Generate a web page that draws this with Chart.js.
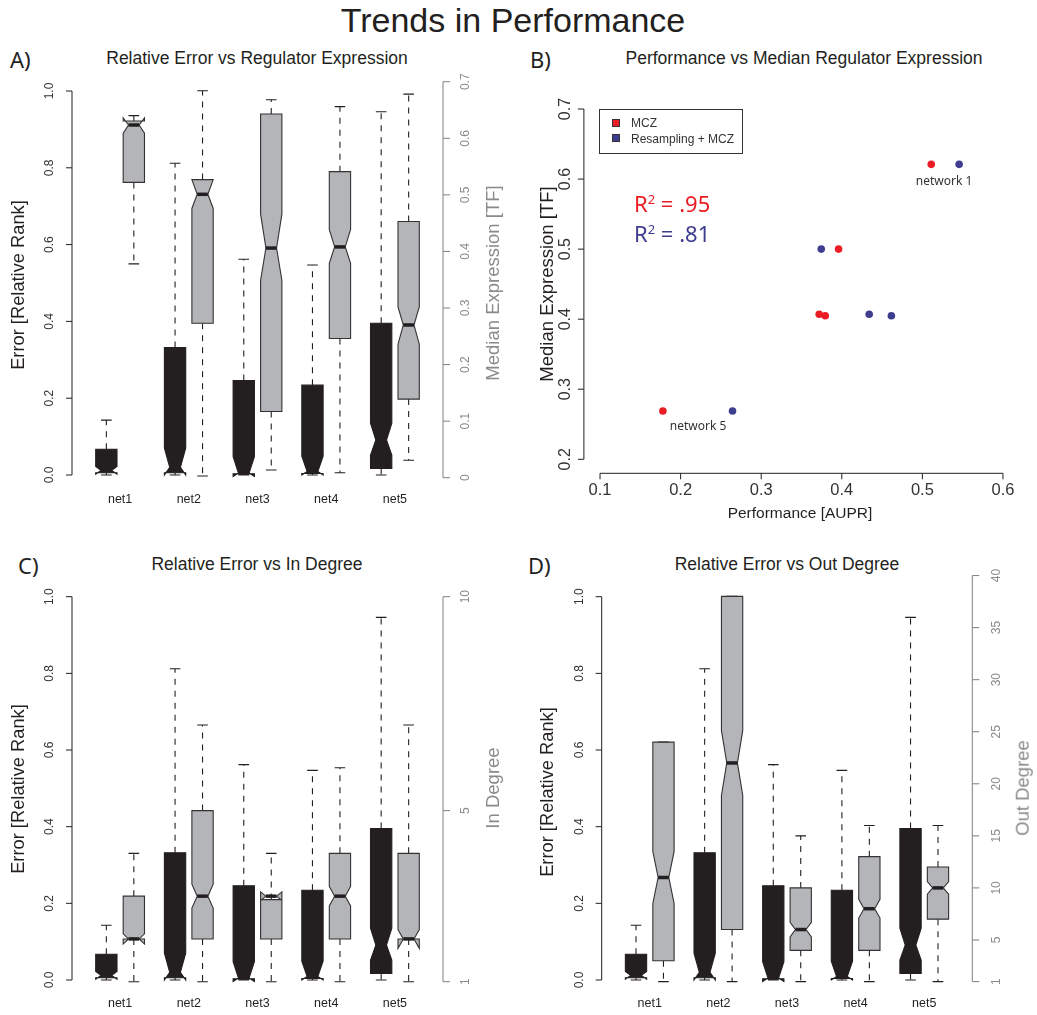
<!DOCTYPE html>
<html>
<head>
<meta charset="utf-8">
<title>Trends in Performance</title>
<script src="https://cdn.jsdelivr.net/npm/chart.js@4.4.0/dist/chart.umd.min.js"></script>
<style>
  body { margin: 0; background: #fff; }
  #page { position: relative; width: 1037px; height: 1015px; overflow: hidden; font-family: "Liberation Sans", Arial, sans-serif; color: #231f20; }
  canvas { position: absolute; }
  .t { position: absolute; white-space: nowrap; line-height: 1; transform: translate(-50%, -50%); }
  .v { transform: translate(-50%, -50%) rotate(-90deg); }
  .l { position: absolute; white-space: nowrap; line-height: 1; transform: translateY(-50%); }
  .grey { color: #8a8a8a; }
  .hum { font-family: "Noto Sans", sans-serif; }
</style>
</head>
<body>
<div id="page">
  <div class="t" style="left:513px;top:20px;font-size:34px;">Trends in Performance</div>

  <div class="l hum" style="left:10px;top:59px;font-size:22px;">A)</div>
  <div class="l hum" style="left:530px;top:59px;font-size:22px;">B)</div>
  <div class="l hum" style="left:18px;top:565px;font-size:22px;">C)</div>
  <div class="l hum" style="left:528px;top:565px;font-size:22px;">D)</div>

  <div class="t" style="left:257px;top:59px;font-size:17.5px;">Relative Error vs Regulator Expression</div>
  <div class="t" style="left:804px;top:59px;font-size:17.5px;">Performance vs Median Regulator Expression</div>
  <div class="t" style="left:257px;top:565px;font-size:17.5px;">Relative Error vs In Degree</div>
  <div class="t" style="left:787px;top:565px;font-size:17.5px;">Relative Error vs Out Degree</div>

  <canvas id="chartA" width="518" height="460" style="left:0;top:60px;"></canvas>
  <canvas id="chartB" width="519" height="480" style="left:518px;top:60px;"></canvas>
  <canvas id="chartC" width="518" height="445" style="left:0;top:570px;"></canvas>
  <canvas id="chartD" width="519" height="455" style="left:518px;top:560px;"></canvas>

  <div class="t v" style="left:18px;top:285px;font-size:18.3px;">Error [Relative Rank]</div>
  <div class="t v grey" style="left:493px;top:283px;font-size:18.5px;">Median Expression [TF]</div>
  <div class="t v" style="left:547px;top:284px;font-size:18.5px;">Median Expression [TF]</div>
  <div class="t" style="left:800px;top:513px;font-size:15.5px;">Performance [AUPR]</div>
  <div class="t v" style="left:18px;top:789px;font-size:18.3px;">Error [Relative Rank]</div>
  <div class="t v grey" style="left:493px;top:788px;font-size:18.5px;">In Degree</div>
  <div class="t v" style="left:547px;top:792px;font-size:18.3px;">Error [Relative Rank]</div>
  <div class="t v grey" style="left:1023px;top:788px;font-size:18.5px;">Out Degree</div>

  <!-- legend of panel B -->
  <div style="position:absolute;left:599px;top:109px;width:142px;height:43px;border:1px solid #333;"></div>
  <div style="position:absolute;left:612px;top:119px;width:6px;height:6px;background:#ec1c24;border:1px solid #333;"></div>
  <div style="position:absolute;left:612px;top:134px;width:6px;height:6px;background:#3f3d8f;border:1px solid #333;"></div>
  <div class="l" style="left:631px;top:123px;font-size:12px;color:#333;">MCZ</div>
  <div class="l" style="left:631px;top:138.5px;font-size:12px;color:#333;">Resampling + MCZ</div>

  <div class="l hum" style="left:634px;top:203px;font-size:22px;color:#ec1c24;">R<sup style="font-size:13px;">2</sup> = .95</div>
  <div class="l hum" style="left:634px;top:233px;font-size:22px;color:#3f3d8f;">R<sup style="font-size:13px;">2</sup> = .81</div>
  <div class="t hum" style="left:944px;top:181px;font-size:12px;color:#333;">network 1</div>
  <div class="t hum" style="left:698px;top:426px;font-size:12px;color:#333;">network 5</div>
</div>

<script>
// categorias
const nets = ['net1', 'net2', 'net3', 'net4', 'net5'];

// estadisticas de cada caja: [min, q1, muesca inf, mediana, muesca sup, q3, max]
const errorStats = [
  [0.0, 0.006, 0.002, 0.012, 0.022, 0.067, 0.143],
  [0.0, 0.006, 0.0, 0.02, 0.07, 0.332, 0.812],
  [0.0, 0.003, -0.004, 0.005, 0.048, 0.246, 0.562],
  [0.0, 0.004, 0.0, 0.009, 0.049, 0.234, 0.547],
  [0.0, 0.017, 0.052, 0.091, 0.135, 0.395, 0.946]
];
const exprStats = [
  [0.378, 0.522, 0.609, 0.6235, 0.636, 0.6305, 0.640],
  [0.003, 0.273, 0.476, 0.501, 0.527, 0.527, 0.684],
  [0.0136, 0.117, 0.349, 0.406, 0.466, 0.643, 0.668],
  [0.0088, 0.246, 0.379, 0.408, 0.439, 0.541, 0.656],
  [0.031, 0.139, 0.236, 0.270, 0.302, 0.453, 0.678]
];
const inDegStats = [
  [1, 2.0, 1.88, 2.0, 2.12, 3.0, 4.0],
  [1, 2.0, 2.72, 3.0, 3.28, 5.0, 7.0],
  [1, 2.0, 2.9, 3.0, 3.1, 2.92, 4.0],
  [1, 2.0, 2.77, 3.0, 3.23, 4.0, 6.0],
  [1, 2.0, 1.78, 2.0, 2.22, 4.0, 7.0]
];
const outDegStats = [
  [1, 3, 8.5, 11, 13.5, 24, 24],
  [1, 6, 18.9, 22, 25.1, 38, 38],
  [1, 4, 5.3, 6, 6.7, 10, 15],
  [1, 4, 7.1, 8, 8.9, 13, 16],
  [1, 7, 9.4, 10, 10.6, 12, 16]
];

// ejes
const errTicks = [0, 0.2, 0.4, 0.6, 0.8, 1.0];
const errTickLabels = ['0.0', '0.2', '0.4', '0.6', '0.8', '1.0'];
const exprTicks = [0, 0.1, 0.2, 0.3, 0.4, 0.5, 0.6, 0.7];
const exprTickLabels = ['0', '0.1', '0.2', '0.3', '0.4', '0.5', '0.6', '0.7'];
const inDegTicks = [1, 5, 10];
const outDegTicks = [1, 5, 10, 15, 20, 25, 30, 35, 40];

// panel B
const mczAupr = [0.511, 0.396, 0.372, 0.3795, 0.178];
const mczExpr = [0.621, 0.500, 0.407, 0.405, 0.269];
const resAupr = [0.5456, 0.3745, 0.434, 0.4615, 0.2644];
const resExpr = [0.621, 0.500, 0.407, 0.405, 0.269];
const auprTicks = [0.1, 0.2, 0.3, 0.4, 0.5, 0.6];
const medExprTicks = [0.2, 0.3, 0.4, 0.5, 0.6, 0.7];

const DARK = '#231f20';
const GREY_TXT = '#8a8a8a';
const BOX_GREY = '#b4b5b9';
const boxHalf = 0.155;
const FONT = '"Liberation Sans", Arial, sans-serif';

// cajas con muesca, estilo R
const boxPlugin = {
  id: 'notchedBoxes',
  afterDatasetsDraw(chart) {
    const ctx = chart.ctx;
    const xs = chart.scales.x;
    chart.data.datasets.forEach(ds => {
      if (!ds.stats) return;
      const ys = chart.scales[ds.yAxisID];
      const P = v => ys.getPixelForValue(v);
      ds.data.forEach((pt, i) => {
        const [mn, q1, lo, md, hi, q3, mx] = ds.stats[i];
        const xc = xs.getPixelForValue(pt.x);
        const hw = xs.getPixelForValue(pt.x + boxHalf) - xc;
        const xl = xc - hw, xr = xc + hw;
        ctx.save();
        ctx.strokeStyle = DARK;
        ctx.lineWidth = 1.1;
        // bigotes
        ctx.setLineDash([6, 6]);
        ctx.beginPath();
        ctx.moveTo(xc, P(q3)); ctx.lineTo(xc, P(mx));
        ctx.moveTo(xc, P(q1)); ctx.lineTo(xc, P(mn));
        ctx.stroke();
        ctx.setLineDash([]);
        ctx.beginPath();
        ctx.moveTo(xc - hw / 2, P(mx)); ctx.lineTo(xc + hw / 2, P(mx));
        ctx.moveTo(xc - hw / 2, P(mn)); ctx.lineTo(xc + hw / 2, P(mn));
        ctx.stroke();
        // caja
        ctx.beginPath();
        ctx.moveTo(xl, P(q1));
        ctx.lineTo(xr, P(q1));
        ctx.lineTo(xr, P(lo));
        ctx.lineTo(xc + hw / 2, P(md));
        ctx.lineTo(xr, P(hi));
        ctx.lineTo(xr, P(q3));
        ctx.lineTo(xl, P(q3));
        ctx.lineTo(xl, P(hi));
        ctx.lineTo(xc - hw / 2, P(md));
        ctx.lineTo(xl, P(lo));
        ctx.closePath();
        ctx.fillStyle = ds.boxColor;
        ctx.fill();
        ctx.strokeStyle = ds.boxBorder;
        ctx.stroke();
        // mediana
        ctx.lineWidth = 3.5;
        ctx.strokeStyle = DARK;
        ctx.beginPath();
        ctx.moveTo(xc - hw / 2, P(md)); ctx.lineTo(xc + hw / 2, P(md));
        ctx.stroke();
        ctx.restore();
      });
    });
  }
};

// ejes dibujados a mano sobre las escalas de Chart.js
const makeAxes = (axes) => ({
  id: 'rAxes',
  afterDraw(chart) {
    const ctx = chart.ctx;
    const area = chart.chartArea;
    axes.forEach(a => {
      const sc = chart.scales[a.scale];
      const pos = a.ticks.map(v => sc.getPixelForValue(v));
      ctx.save();
      ctx.strokeStyle = a.color;
      ctx.fillStyle = a.textColor || a.color;
      ctx.lineWidth = 1;
      ctx.font = a.font;
      if (a.side === 'bottom') {
        const y = area.bottom;
        if (!a.noLine) {
          ctx.beginPath();
          ctx.moveTo(pos[0], y); ctx.lineTo(pos[pos.length - 1], y);
          pos.forEach(p => { ctx.moveTo(p, y); ctx.lineTo(p, y + a.tickLen); });
          ctx.stroke();
        }
        ctx.textAlign = 'center';
        ctx.textBaseline = 'middle';
        pos.forEach((p, i) => ctx.fillText(a.labels[i], p, y + a.offset));
      } else {
        const left = a.side === 'left';
        const x = left ? area.left : area.right;
        const dir = left ? -1 : 1;
        ctx.beginPath();
        ctx.moveTo(x, pos[0]); ctx.lineTo(x, pos[pos.length - 1]);
        pos.forEach(p => { ctx.moveTo(x, p); ctx.lineTo(x + dir * a.tickLen, p); });
        ctx.stroke();
        ctx.textAlign = 'center';
        ctx.textBaseline = 'middle';
        pos.forEach((p, i) => {
          ctx.save();
          ctx.translate(x + dir * a.offset, p);
          ctx.rotate(-Math.PI / 2);
          ctx.fillText(a.labels[i], 0, 0);
          ctx.restore();
        });
      }
      ctx.restore();
    });
  }
});

const boxData = (stats, shift) => stats.map((s, i) => ({ x: i + 1 + shift, y: s[3] }));

const boxPanel = (id, pad, right, netOffset) => {
  const ctx = document.getElementById(id).getContext('2d');
  return new Chart(ctx, {
    type: 'scatter',
    data: {
      datasets: [
        {
          label: 'Error',
          data: boxData(errorStats, -0.2),
          stats: errorStats,
          yAxisID: 'y',
          boxColor: DARK,
          boxBorder: DARK,
          pointRadius: 0
        },
        {
          label: right.label,
          data: boxData(right.stats, 0.2),
          stats: right.stats,
          yAxisID: 'y2',
          boxColor: BOX_GREY,
          boxBorder: '#333',
          pointRadius: 0
        }
      ]
    },
    options: {
      responsive: false,
      animation: false,
      layout: { padding: pad },
      scales: {
        x: { type: 'linear', min: 0.3, max: 5.7, display: false },
        y: { min: 0, max: 1, display: false },
        y2: { min: right.min, max: right.max, display: false, position: 'right' }
      },
      plugins: { legend: { display: false }, tooltip: { enabled: false } }
    },
    plugins: [boxPlugin, makeAxes([
      { scale: 'y', side: 'left', ticks: errTicks, labels: errTickLabels, color: DARK, textColor: '#333',
        font: '12px ' + FONT, tickLen: 6, offset: 22.5 },
      { scale: 'y2', side: 'right', ticks: right.ticks, labels: right.tickLabels, color: '#808080', textColor: GREY_TXT,
        font: '12px ' + FONT, tickLen: 7, offset: right.offset },
      { scale: 'x', side: 'bottom', noLine: true, ticks: [1, 2, 3, 4, 5], labels: nets, color: DARK,
        font: '12.5px ' + FONT, tickLen: 0, offset: netOffset }
    ])]
  });
};

boxPanel('chartA', { left: 72, right: 75, top: 31, bottom: 45 }, {
  label: 'Median Expression', stats: exprStats, min: 0.0048, max: 0.6836,
  ticks: exprTicks, tickLabels: exprTickLabels, offset: 22.5
}, 25);

boxPanel('chartC', { left: 72, right: 75, top: 26.7, bottom: 35 }, {
  label: 'In Degree', stats: inDegStats, min: 1.04, max: 10,
  ticks: inDegTicks, tickLabels: inDegTicks.map(String), offset: 22.5
}, 24);

boxPanel('chartD', { left: 83.7, right: 64.7, top: 36.7, bottom: 35 }, {
  label: 'Out Degree', stats: outDegStats, min: 1.153, max: 37.97,
  ticks: outDegTicks, tickLabels: outDegTicks.map(String), offset: 24
}, 24);

// panel B: dispersion
new Chart(document.getElementById('chartB').getContext('2d'), {
  type: 'scatter',
  data: {
    datasets: [
      {
        label: 'MCZ',
        data: mczAupr.map((x, i) => ({ x: x, y: mczExpr[i] })),
        backgroundColor: '#ec1c24',
        pointRadius: 3.8,
        borderWidth: 0
      },
      {
        label: 'Resampling + MCZ',
        data: resAupr.map((x, i) => ({ x: x, y: resExpr[i] })),
        backgroundColor: '#3f3d8f',
        pointRadius: 3.8,
        borderWidth: 0
      }
    ]
  },
  options: {
    responsive: false,
    animation: false,
    layout: { padding: { left: 65.9, right: 17.9, top: 35, bottom: 66.7 } },
    scales: {
      x: { type: 'linear', min: 0.08, max: 0.62, display: false },
      y: { min: 0.18, max: 0.72, display: false }
    },
    plugins: { legend: { display: false }, tooltip: { enabled: false } }
  },
  plugins: [makeAxes([
    { scale: 'y', side: 'left', ticks: medExprTicks, labels: medExprTicks.map(v => v.toFixed(1)), color: DARK,
      textColor: '#333', font: '16px ' + FONT, tickLen: 6, offset: 18.3 },
    { scale: 'x', side: 'bottom', ticks: auprTicks, labels: auprTicks.map(v => v.toFixed(1)), color: DARK,
      textColor: '#333', font: '16.5px ' + FONT, tickLen: 6, offset: 17 }
  ])]
});
</script>
</body>
</html>
